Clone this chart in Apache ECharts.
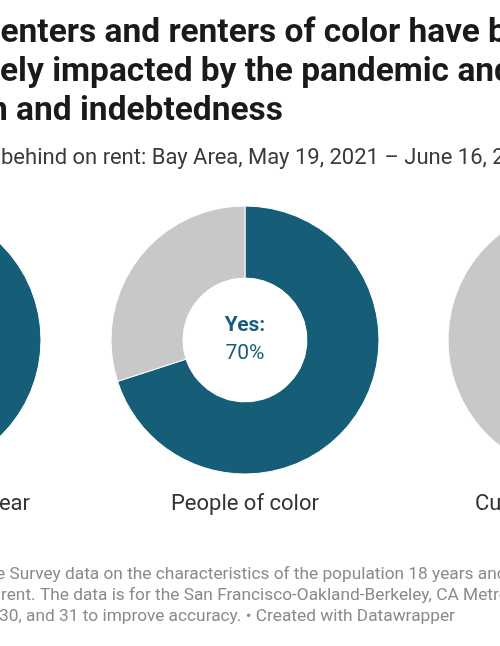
<!DOCTYPE html>
<html>
<head>
<meta charset="utf-8">
<script src="https://cdn.jsdelivr.net/npm/echarts@6/dist/echarts.min.js"></script>
<style>
html,body{margin:0;padding:0;background:#fff;overflow:hidden;}
#chart{width:500px;height:646px;}
</style>
</head>
<body>
<div id="chart"></div>
<script>
// Data (visible portion of a wider Datawrapper chart)
const categories = ['ear', 'People of color', 'Cu'];
const yesValues = [62, 70, 38];   // share "Yes" (%) per group
const sliceNames = ['Yes', 'No'];
const titleLines = [
  'enters and renters of color have been',
  'ely impacted by the pandemic and face',
  'n and indebtedness'
];
const subtitleText = 'behind on rent: Bay Area, May 19, 2021 \u2013 June 16, 2021';
const footerLines = [
  'e Survey data on the characteristics of the population 18 years and',
  'rent. The data is for the San Francisco-Oakland-Berkeley, CA Metro',
  '30, and 31 to improve accuracy. \u2022 Created with Datawrapper'
];

const TEAL = '#165e78';
const GREY = '#c8c8c8';
const FONT = 'Roboto, "Noto Sans", sans-serif';

const pieCenters = [-93, 245, 582];
const pieCY = 340;

const chart = echarts.init(document.getElementById('chart'), null, {renderer: 'canvas'});

const series = categories.map((cat, i) => ({
  type: 'pie',
  name: cat,
  center: [pieCenters[i], pieCY],
  radius: [62, 134],
  startAngle: 90,
  clockwise: true,
  silent: true,
  animation: false,
  itemStyle: {borderColor: '#fff', borderWidth: 1},
  label: {show: false},
  labelLine: {show: false},
  emphasis: {disabled: true},
  data: [
    {
      name: sliceNames[0], value: yesValues[i], itemStyle: {color: TEAL},
      label: {
        show: true, position: 'center',
        formatter: p => '{b|' + p.name + ':}\n{v|' + p.value + '%}',
        rich: {
          b: {fontFamily: FONT, fontSize: 21, fontWeight: 'bold', color: TEAL, lineHeight: 28},
          v: {fontFamily: FONT, fontSize: 21, color: TEAL, lineHeight: 28}
        }
      }
    },
    {name: sliceNames[1], value: 100 - yesValues[i], itemStyle: {color: GREY}}
  ]
}));

const graphic = [];
const titleX = [0.5, 0, -11];
titleLines.forEach((t, i) => {
  graphic.push({type: 'text', x: titleX[i], y: 33.5 + i * 39.3,
    style: {text: t, font: 'bold 33.5px ' + FONT, fill: '#1a1a1a', verticalAlign: 'middle'}});
});
graphic.push({type: 'text', x: 1, y: 158,
  style: {text: subtitleText, font: '22px ' + FONT, fill: '#3a3a3a', verticalAlign: 'middle'}});
// pie labels
graphic.push({type: 'text', x: 30, y: 504,
  style: {text: categories[0], font: '22px ' + FONT, fill: '#333', align: 'right', verticalAlign: 'middle'}});
graphic.push({type: 'text', x: pieCenters[1], y: 504,
  style: {text: categories[1], font: '22px ' + FONT, fill: '#333', align: 'center', verticalAlign: 'middle'}});
graphic.push({type: 'text', x: 475, y: 504,
  style: {text: categories[2], font: '22px ' + FONT, fill: '#333', align: 'left', verticalAlign: 'middle'}});
const footX = [-4, 1, -1];
footerLines.forEach((t, i) => {
  graphic.push({type: 'text', x: footX[i], y: 575 + i * 20.6,
    style: {text: t, font: '17.3px ' + FONT, fill: '#8a8a8a', verticalAlign: 'middle'}});
});

chart.setOption({
  animation: false,
  series: series,
  graphic: graphic
});
</script>
</body>
</html>
